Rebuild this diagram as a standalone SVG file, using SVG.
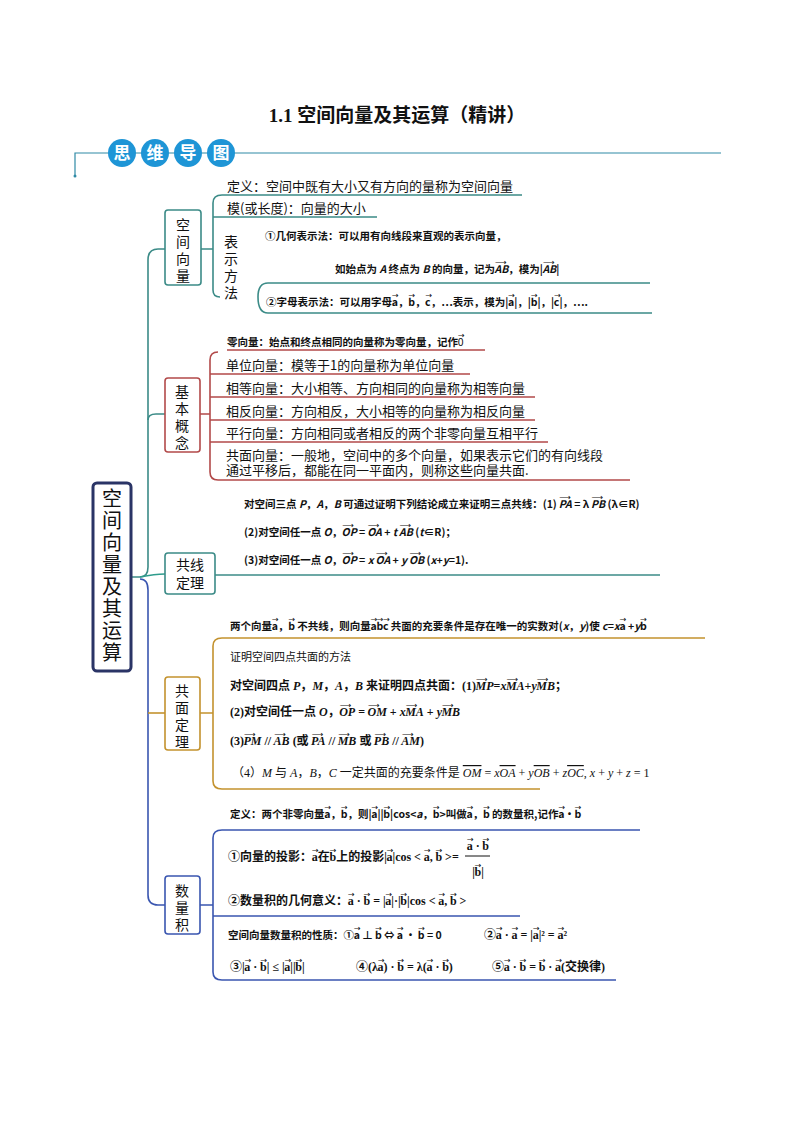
<svg xmlns="http://www.w3.org/2000/svg" width="794" height="1123" viewBox="0 0 794 1123">
<style>
text{font-family:"Noto Sans CJK SC","Liberation Sans",sans-serif;fill:#111}
.t{font-size:13px}
.s{font-size:10.5px;font-weight:bold}
.m{font-family:"Liberation Serif","Noto Sans CJK SC",serif;font-size:12px;font-weight:bold}
.ar{font-size:8px;font-family:"DejaVu Sans",sans-serif;font-weight:normal;font-style:normal}
.box{fill:#fff;stroke-width:1.6}
.ln{fill:none;stroke-width:1.6}
.teal{stroke:#3b8b87}
.red{stroke:#b24a4a}
.gold{stroke:#c3922e}
.blue{stroke:#3a56b0}
.v{font-size:14px}
</style>
<rect width="794" height="1123" fill="#fff"/>
<text x="397" y="122" text-anchor="middle" style="font-size:19px;font-weight:bold;font-family:'Liberation Serif','Noto Sans CJK SC',serif">1.1  空间向量及其运算（精讲）</text>
<g id="header">
<path d="M75,176 V153 H721" fill="none" stroke="#2f8aa6" stroke-width="1.2"/>
<circle cx="75" cy="176" r="1.5" fill="#2f8aa6"/>
<circle cx="122" cy="153" r="14" fill="#1e95d6"/><circle cx="155" cy="153" r="14" fill="#1e95d6"/><circle cx="188" cy="153" r="14" fill="#1e95d6"/><circle cx="221" cy="153" r="14" fill="#1e95d6"/>
<g style="font-size:17px;font-weight:bold" text-anchor="middle"><text x="122" y="159" style="fill:#fff">思</text><text x="155" y="159" style="fill:#fff">维</text><text x="188" y="159" style="fill:#fff">导</text><text x="221" y="159" style="fill:#fff">图</text></g>
</g>
<g id="connectors">
<path class="ln teal" d="M131,577 H140 Q148,577 148,567 V260 Q148,249 158,249 H165" stroke-width="3"/>
<path class="ln teal" d="M148,420 Q148,414 156,414 H165" stroke-width="2"/>
<path class="ln" stroke="#2e9c8c" stroke-width="2.5" d="M140,577 Q155,574 165,574"/>
<path class="ln blue" stroke-width="3" d="M140,579 Q148,579 148,590 V895 Q148,905 158,905 H165"/>
<path class="ln gold" d="M148,713 H165"/>
<path class="ln teal" d="M201,249 H213 M213,203 V290 Q213,297 220,297 M222,195 Q213,195 213,203 M213,217 H377 M522,195 H222"/>
<path class="ln teal" d="M258,297 Q258,313 268,313 H652 M258,297 Q258,283 268,283 H650"/>
<path class="ln red" d="M227,350 H485 M200,414 H210 M218,352 Q210,352 210,360 V472 Q210,480 218,480 H630 M210,374 H470 M210,397 H535 M210,420 H535 M210,442 H548"/>
<path class="ln teal" d="M215,575 H660"/>
<path class="ln gold" d="M200,713 H213 M705,638 H222 Q213,638 213,646 V781 Q213,789 222,789 H540"/>
<path class="ln blue" d="M200,905 H213 M640,830 H222 Q213,830 213,838 V972 Q213,980 222,980 H616 M213,916 H520"/>
</g>
<g id="root"><rect x="93" y="483" width="38" height="188" rx="4" fill="#fff" stroke="#2a3466" stroke-width="3"/>
<g text-anchor="middle" style="font-size:20px"><text x="112" y="506">空</text><text x="112" y="528">间</text><text x="112" y="550">向</text><text x="112" y="572">量</text><text x="112" y="594">及</text><text x="112" y="616">其</text><text x="112" y="638">运</text><text x="112" y="660">算</text></g>
</g>
<g id="n1"><rect class="box teal" x="165" y="210" width="36" height="75" rx="3"/>
<g text-anchor="middle"><text x="183" y="230" class="v">空</text><text x="183" y="247" class="v">间</text><text x="183" y="264" class="v">向</text><text x="183" y="281" class="v">量</text></g>
<text x="227" y="191" class="t">定义：空间中既有大小又有方向的量称为空间向量</text>
<text x="227" y="213" class="t">模(或长度)：向量的大小</text>
<text x="224" y="247" class="v">表</text><text x="224" y="264" class="v">示</text><text x="224" y="281" class="v">方</text><text x="224" y="298" class="v">法</text>
<text x="265" y="240" class="s">①几何表示法：可以用有向线段来直观的表示向量，</text>
<text x="335" y="273" class="s">如始点为 <tspan font-style="italic">A</tspan> 终点为 <tspan font-style="italic">B</tspan> 的向量，记为<tspan class="ar" dy="-8">⟶</tspan><tspan dx="-12" dy="8" font-style="italic">AB</tspan>，模为|<tspan class="ar" dy="-8">⟶</tspan><tspan dx="-12" dy="8" font-style="italic">AB</tspan>|</text>
<text x="266" y="306" class="s">②字母表示法：可以用字母<tspan class="ar" dy="-8">→</tspan><tspan dx="-7" dy="8">a</tspan>，<tspan class="ar" dy="-8">→</tspan><tspan dx="-7" dy="8">b</tspan>，<tspan class="ar" dy="-8">→</tspan><tspan dx="-7" dy="8">c</tspan>，…表示，模为|<tspan class="ar" dy="-8">→</tspan><tspan dx="-7" dy="8">a</tspan>|，|<tspan class="ar" dy="-8">→</tspan><tspan dx="-7" dy="8">b</tspan>|，|<tspan class="ar" dy="-8">→</tspan><tspan dx="-7" dy="8">c</tspan>|，….</text>
</g>
<g id="n2"><rect class="box red" x="165" y="378" width="35" height="74" rx="3"/>
<g text-anchor="middle"><text x="182" y="397" class="v">基</text><text x="182" y="414" class="v">本</text><text x="182" y="431" class="v">概</text><text x="182" y="448" class="v">念</text></g>
<text x="227" y="346" class="s">零向量：始点和终点相同的向量称为零向量，记作<tspan class="ar" dy="-8">→</tspan><tspan dx="-7" dy="8" style="font-weight:normal">0</tspan></text>
<text x="226" y="370" class="t">单位向量：模等于1的向量称为单位向量</text>
<text x="226" y="393" class="t">相等向量：大小相等、方向相同的向量称为相等向量</text>
<text x="226" y="416" class="t">相反向量：方向相反，大小相等的向量称为相反向量</text>
<text x="226" y="438" class="t">平行向量：方向相同或者相反的两个非零向量互相平行</text>
<text x="226" y="460" class="t">共面向量：一般地，空间中的多个向量，如果表示它们的有向线段</text>
<text x="226" y="475" class="t">通过平移后，都能在同一平面内，则称这些向量共面.</text>
</g>
<g id="n3"><rect class="box teal" x="165" y="553" width="50" height="41" rx="3"/>
<text x="190" y="570" text-anchor="middle" class="v">共线</text><text x="190" y="588" text-anchor="middle" class="v">定理</text>
<text x="244" y="508" class="s">对空间三点 <tspan font-style="italic">P</tspan>，<tspan font-style="italic">A</tspan>，<tspan font-style="italic">B</tspan> 可通过证明下列结论成立来证明三点共线：(1) <tspan class="ar" dy="-8">⟶</tspan><tspan dx="-12" dy="8" font-style="italic">PA</tspan> = λ <tspan class="ar" dy="-8">⟶</tspan><tspan dx="-12" dy="8" font-style="italic">PB</tspan> (λ∈R)</text>
<text x="244" y="536" class="s">(2)对空间任一点 <tspan font-style="italic">O</tspan>，<tspan class="ar" dy="-8">⟶</tspan><tspan dx="-12" dy="8" font-style="italic">OP</tspan> = <tspan class="ar" dy="-8">⟶</tspan><tspan dx="-12" dy="8" font-style="italic">OA</tspan> + <tspan font-style="italic">t</tspan> <tspan class="ar" dy="-8">⟶</tspan><tspan dx="-12" dy="8" font-style="italic">AB</tspan> (<tspan font-style="italic">t</tspan>∈R)；</text>
<text x="244" y="564" class="s">(3)对空间任一点 <tspan font-style="italic">O</tspan>，<tspan class="ar" dy="-8">⟶</tspan><tspan dx="-12" dy="8" font-style="italic">OP</tspan> = <tspan font-style="italic">x</tspan> <tspan class="ar" dy="-8">⟶</tspan><tspan dx="-12" dy="8" font-style="italic">OA</tspan> + <tspan font-style="italic">y</tspan> <tspan class="ar" dy="-8">⟶</tspan><tspan dx="-12" dy="8" font-style="italic">OB</tspan> (<tspan font-style="italic">x</tspan>+<tspan font-style="italic">y</tspan>=1).</text>
</g>
<g id="n4"><rect class="box gold" x="165" y="677" width="35" height="73" rx="3"/>
<g text-anchor="middle"><text x="182" y="696" class="v">共</text><text x="182" y="713" class="v">面</text><text x="182" y="730" class="v">定</text><text x="182" y="747" class="v">理</text></g>
<text x="230" y="630" class="s">两个向量<tspan class="ar" dy="-8">→</tspan><tspan dx="-7" dy="8">a</tspan>，<tspan class="ar" dy="-8">→</tspan><tspan dx="-7" dy="8">b</tspan> 不共线，则向量<tspan class="ar" dy="-8">→</tspan><tspan dx="-7" dy="8">a</tspan><tspan class="ar" dy="-8">→</tspan><tspan dx="-7" dy="8">b</tspan><tspan class="ar" dy="-8">→</tspan><tspan dx="-7" dy="8">c</tspan> 共面的充要条件是存在唯一的实数对(<tspan font-style="italic">x</tspan>，<tspan font-style="italic">y</tspan>)使 <tspan font-style="italic">c</tspan>=<tspan font-style="italic">x</tspan><tspan class="ar" dy="-8">→</tspan><tspan dx="-7" dy="8">a</tspan> +<tspan font-style="italic">y</tspan><tspan class="ar" dy="-8">→</tspan><tspan dx="-7" dy="8">b</tspan></text>
<text x="230" y="661" style="font-size:11px">证明空间四点共面的方法</text>
<text x="230" y="690" class="m">对空间四点 <tspan font-style="italic">P</tspan>，<tspan font-style="italic">M</tspan>，<tspan font-style="italic">A</tspan>，<tspan font-style="italic">B</tspan> 来证明四点共面：(1)<tspan class="ar" dy="-8">⟶</tspan><tspan dx="-12" dy="8" font-style="italic">MP</tspan>=<tspan font-style="italic">x</tspan><tspan class="ar" dy="-8">⟶</tspan><tspan dx="-12" dy="8" font-style="italic">MA</tspan>+<tspan font-style="italic">y</tspan><tspan class="ar" dy="-8">⟶</tspan><tspan dx="-12" dy="8" font-style="italic">MB</tspan>；</text>
<text x="230" y="716" class="m">(2)对空间任一点 <tspan font-style="italic">O</tspan>，<tspan class="ar" dy="-8">⟶</tspan><tspan dx="-12" dy="8" font-style="italic">OP</tspan> = <tspan class="ar" dy="-8">⟶</tspan><tspan dx="-12" dy="8" font-style="italic">OM</tspan> + <tspan font-style="italic">x</tspan><tspan class="ar" dy="-8">⟶</tspan><tspan dx="-12" dy="8" font-style="italic">MA</tspan> + <tspan font-style="italic">y</tspan><tspan class="ar" dy="-8">⟶</tspan><tspan dx="-12" dy="8" font-style="italic">MB</tspan></text>
<text x="230" y="745" class="m">(3)<tspan class="ar" dy="-8">⟶</tspan><tspan dx="-12" dy="8" font-style="italic">PM</tspan> // <tspan class="ar" dy="-8">⟶</tspan><tspan dx="-12" dy="8" font-style="italic">AB</tspan> (或 <tspan class="ar" dy="-8">⟶</tspan><tspan dx="-12" dy="8" font-style="italic">PA</tspan> // <tspan class="ar" dy="-8">⟶</tspan><tspan dx="-12" dy="8" font-style="italic">MB</tspan> 或 <tspan class="ar" dy="-8">⟶</tspan><tspan dx="-12" dy="8" font-style="italic">PB</tspan> // <tspan class="ar" dy="-8">⟶</tspan><tspan dx="-12" dy="8" font-style="italic">AM</tspan>)</text>
<text x="232" y="777" style="font-size:12px;font-family:'Liberation Serif','Noto Sans CJK SC',serif">（4）<tspan font-style="italic">M</tspan> 与 <tspan font-style="italic">A</tspan>，<tspan font-style="italic">B</tspan>，<tspan font-style="italic">C</tspan> 一定共面的充要条件是 <tspan font-style="italic" text-decoration="overline">OM</tspan> = <tspan font-style="italic">x</tspan><tspan font-style="italic" text-decoration="overline">OA</tspan> + <tspan font-style="italic">y</tspan><tspan font-style="italic" text-decoration="overline">OB</tspan> + <tspan font-style="italic">z</tspan><tspan font-style="italic" text-decoration="overline">OC</tspan>, <tspan font-style="italic">x</tspan> + <tspan font-style="italic">y</tspan> + <tspan font-style="italic">z</tspan> = 1</text>
</g>
<g id="n5"><rect class="box blue" x="165" y="876" width="35" height="58" rx="3"/>
<g text-anchor="middle"><text x="182" y="896" class="v">数</text><text x="182" y="913" class="v">量</text><text x="182" y="930" class="v">积</text></g>
<text x="230" y="818" class="s">定义：两个非零向量<tspan class="ar" dy="-8">→</tspan><tspan dx="-7" dy="8">a</tspan>，<tspan class="ar" dy="-8">→</tspan><tspan dx="-7" dy="8">b</tspan>，则|<tspan class="ar" dy="-8">→</tspan><tspan dx="-7" dy="8">a</tspan>||<tspan class="ar" dy="-8">→</tspan><tspan dx="-7" dy="8">b</tspan>|cos&lt;<tspan font-style="italic">a</tspan>，<tspan class="ar" dy="-8">→</tspan><tspan dx="-7" dy="8">b</tspan>&gt;叫做<tspan class="ar" dy="-8">→</tspan><tspan dx="-7" dy="8">a</tspan>，<tspan class="ar" dy="-8">→</tspan><tspan dx="-7" dy="8">b</tspan> 的数量积,记作<tspan class="ar" dy="-8">→</tspan><tspan dx="-7" dy="8">a</tspan>·<tspan class="ar" dy="-8">→</tspan><tspan dx="-7" dy="8">b</tspan></text>
<text x="228" y="861" class="m">①向量的投影：<tspan class="ar" dy="-8">→</tspan><tspan dx="-7" dy="8">a</tspan>在<tspan class="ar" dy="-8">→</tspan><tspan dx="-7" dy="8">b</tspan>上的投影|<tspan class="ar" dy="-8">→</tspan><tspan dx="-7" dy="8">a</tspan>|cos &lt; <tspan class="ar" dy="-8">→</tspan><tspan dx="-7" dy="8">a</tspan>, <tspan class="ar" dy="-8">→</tspan><tspan dx="-7" dy="8">b</tspan> &gt;=</text>
<text x="478" y="850" class="m" text-anchor="middle"><tspan class="ar" dy="-8">→</tspan><tspan dx="-7" dy="8">a</tspan> · <tspan class="ar" dy="-8">→</tspan><tspan dx="-7" dy="8">b</tspan></text>
<line x1="465" y1="856" x2="490" y2="856" stroke="#111" stroke-width="1"/>
<text x="478" y="876" class="m" text-anchor="middle">|<tspan class="ar" dy="-8">→</tspan><tspan dx="-7" dy="8">b</tspan>|</text>
<text x="228" y="905" class="m">②数量积的几何意义：<tspan class="ar" dy="-8">→</tspan><tspan dx="-7" dy="8">a</tspan> · <tspan class="ar" dy="-8">→</tspan><tspan dx="-7" dy="8">b</tspan> = |<tspan class="ar" dy="-8">→</tspan><tspan dx="-7" dy="8">a</tspan>|·|<tspan class="ar" dy="-8">→</tspan><tspan dx="-7" dy="8">b</tspan>|cos &lt; <tspan class="ar" dy="-8">→</tspan><tspan dx="-7" dy="8">a</tspan>, <tspan class="ar" dy="-8">→</tspan><tspan dx="-7" dy="8">b</tspan> &gt;</text>
<text x="228" y="939" style="font-size:10.5px;font-weight:bold">空间向量数量积的性质：①<tspan class="ar" dy="-8">→</tspan><tspan dx="-7" dy="8">a</tspan> ⊥ <tspan class="ar" dy="-8">→</tspan><tspan dx="-7" dy="8">b</tspan> ⇔ <tspan class="ar" dy="-8">→</tspan><tspan dx="-7" dy="8">a</tspan> · <tspan class="ar" dy="-8">→</tspan><tspan dx="-7" dy="8">b</tspan> = 0</text>
<text x="484" y="939" class="m">②<tspan class="ar" dy="-8">→</tspan><tspan dx="-7" dy="8">a</tspan> · <tspan class="ar" dy="-8">→</tspan><tspan dx="-7" dy="8">a</tspan> = |<tspan class="ar" dy="-8">→</tspan><tspan dx="-7" dy="8">a</tspan>|² = <tspan class="ar" dy="-8">→</tspan><tspan dx="-7" dy="8">a</tspan>²</text>
<text x="230" y="971" class="m">③|<tspan class="ar" dy="-8">→</tspan><tspan dx="-7" dy="8">a</tspan> · <tspan class="ar" dy="-8">→</tspan><tspan dx="-7" dy="8">b</tspan>| ≤ |<tspan class="ar" dy="-8">→</tspan><tspan dx="-7" dy="8">a</tspan>||<tspan class="ar" dy="-8">→</tspan><tspan dx="-7" dy="8">b</tspan>|</text>
<text x="356" y="971" class="m">④(λ<tspan class="ar" dy="-8">→</tspan><tspan dx="-7" dy="8">a</tspan>) · <tspan class="ar" dy="-8">→</tspan><tspan dx="-7" dy="8">b</tspan> = λ(<tspan class="ar" dy="-8">→</tspan><tspan dx="-7" dy="8">a</tspan> · <tspan class="ar" dy="-8">→</tspan><tspan dx="-7" dy="8">b</tspan>)</text>
<text x="492" y="971" class="m">⑤<tspan class="ar" dy="-8">→</tspan><tspan dx="-7" dy="8">a</tspan> · <tspan class="ar" dy="-8">→</tspan><tspan dx="-7" dy="8">b</tspan> = <tspan class="ar" dy="-8">→</tspan><tspan dx="-7" dy="8">b</tspan> · <tspan class="ar" dy="-8">→</tspan><tspan dx="-7" dy="8">a</tspan>(交换律)</text>
</g>
</svg>
